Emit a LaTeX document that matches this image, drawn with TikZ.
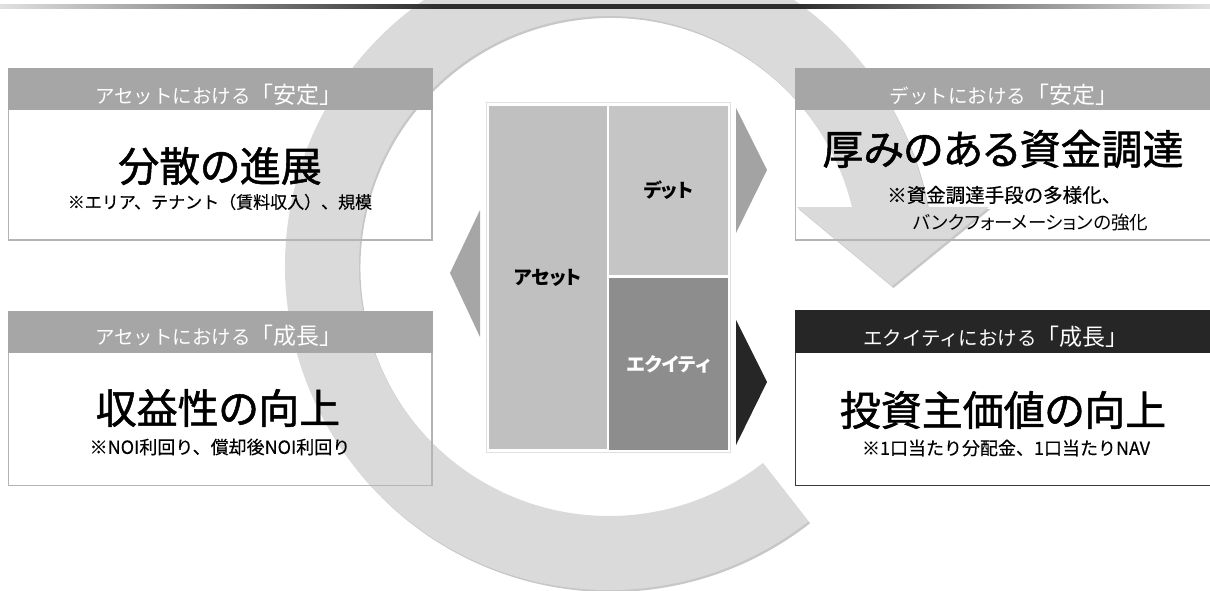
\documentclass[tikz,border=0pt]{standalone}
\usepackage{fontspec}
\setmainfont{Noto Sans CJK JP}[RawFeature={+palt}]
\newfontfamily\plainjp{Noto Sans CJK JP}[FakeBold=0.4]
\newfontfamily\hdrjp{Noto Sans CJK JP}
\newfontfamily\titlejp{Noto Sans CJK JP}[RawFeature={+palt}, FakeBold=1.3]
\definecolor{ringgray}{HTML}{DADADA}
\definecolor{hdrgray}{HTML}{A6A6A6}
\definecolor{hdrdark}{HTML}{262626}
\definecolor{bordgray}{HTML}{B4B4B4}
\definecolor{borddark}{HTML}{3A3A3A}
\definecolor{cellA}{HTML}{C0C0C0}
\definecolor{cellD}{HTML}{C5C5C5}
\definecolor{cellE}{HTML}{8D8D8D}
\definecolor{trigray}{HTML}{A3A3A3}
\pgfdeclarehorizontalshading{toplineshade}{100bp}{color(0bp)=(black!12); color(25bp)=(black!12); color(43bp)=(black!82); color(58bp)=(black!82); color(75bp)=(black!12); color(100bp)=(black!12)}
\tikzset{
  bodybox/.style={draw=#1, line width=1.4pt},
  hdrtext/.style={text=white, inner sep=0pt, font=\hdrjp\fontsize{19.5}{22}\selectfont},
  titletext/.style={inner sep=0pt, font=\titlejp\fontsize{41}{44}\selectfont},
  subtext/.style={inner sep=0pt, font=\plainjp\fontsize{18}{20}\selectfont},
  cell/.style={draw=white, line width=2.5pt, inner sep=0pt, font=\bfseries\fontsize{19}{21}\selectfont},
}
\newcommand{\hdrbig}[1]{{\fontsize{23}{26}\selectfont #1}}
\begin{document}
\begin{tikzpicture}[x=1pt,y=-1pt]
\useasboundingbox (0,0) rectangle (1210,590);
% circular arrow
\begin{scope}[shift={(609,266)}]
  \fill[black, opacity=0.22, shift={(1.5,2)}] (52:324) arc[start angle=52, end angle=349.5, radius=324]
    -- (380,-59) -- (283,20) -- (188,-59) -- (346.4:250)
    arc[start angle=346.4, end angle=52, radius=250] -- cycle;
  \fill[ringgray] (52:324) arc[start angle=52, end angle=349.5, radius=324]
    -- (380,-59) -- (283,20) -- (188,-59) -- (346.4:250)
    arc[start angle=346.4, end angle=52, radius=250] -- cycle;
\end{scope}
% top line
\shade[shading=toplineshade] (0,4.5) rectangle (1210,8.5);
% boxes
\draw[bodybox=bordgray] (8.5,68.5) rectangle (432,240);
\fill[hdrgray] (7.8,67.8) rectangle (432.7,110);
\draw[bodybox=bordgray] (8.5,312) rectangle (432,485.5);
\fill[hdrgray] (7.8,311.3) rectangle (432.7,353);
\draw[bodybox=bordgray] (795.5,68.5) rectangle (1216,240);
\fill[hdrgray] (794.8,67.8) rectangle (1216,110);
\draw[bodybox=borddark] (795.5,310.5) rectangle (1216,485.5);
\fill[hdrdark] (794.8,309.8) rectangle (1216,353);
% header texts
\node[hdrtext] (h1) at (219,95) {アセットにおける\hdrbig{「安定」}};
\node[hdrtext] (h2) at (1004,95) {デットにおける\hdrbig{「安定」}};
\node[hdrtext] (h3) at (219,336) {アセットにおける\hdrbig{「成長」}};
\node[hdrtext] (h4) at (996,337) {エクイティにおける\hdrbig{「成長」}};
% titles
\node[titletext] (t1) at (220,166) {分散の進展};
\node[titletext] (t2) at (1003,149) {厚みのある資金調達};
\node[titletext] (t3) at (218,408) {収益性の向上};
\node[titletext] (t4) at (1003,410) {投資主価値の向上};
% sub texts
\node[subtext, font=\plainjp\fontsize{17}{19}\selectfont] (s1) at (220,202) {※エリア、テナント（賃料収入）、規模};
\node[subtext, anchor=west, font=\plainjp\fontsize{19.5}{21}\selectfont] (s2a) at (887,195) {※資金調達手段の多様化、};
\node[subtext, anchor=west, font=\fontsize{18.5}{21}\selectfont] (s2b) at (913,223) {バンクフォーメーションの強化};
\node[subtext] (s3) at (220,447) {※NOI利回り、償却後NOI利回り};
\node[subtext] (s4) at (1006,448) {※1口当たり分配金、1口当たりNAV};
% center block
\draw[black!12, line width=0.6pt] (486.5,102.5) rectangle (730.5,452.5);
\node[cell, fill=cellA, minimum width=120pt, minimum height=346pt] (asset) at (548,277.5) {アセット};
\node[cell, fill=cellD, minimum width=121pt, minimum height=172pt] (debt) at (668.5,190.5) {デット};
\node[cell, fill=cellE, text=white, minimum width=121pt, minimum height=174pt] (equity) at (668.5,364) {エクイティ};
% triangles
\fill[hdrgray] (480,210) -- (450,273) -- (480,337) -- cycle;
\fill[trigray] (736,108) -- (767,170) -- (736,233) -- cycle;
\fill[hdrdark] (736,320) -- (767,382) -- (736,445) -- cycle;
\end{tikzpicture}
\end{document}
